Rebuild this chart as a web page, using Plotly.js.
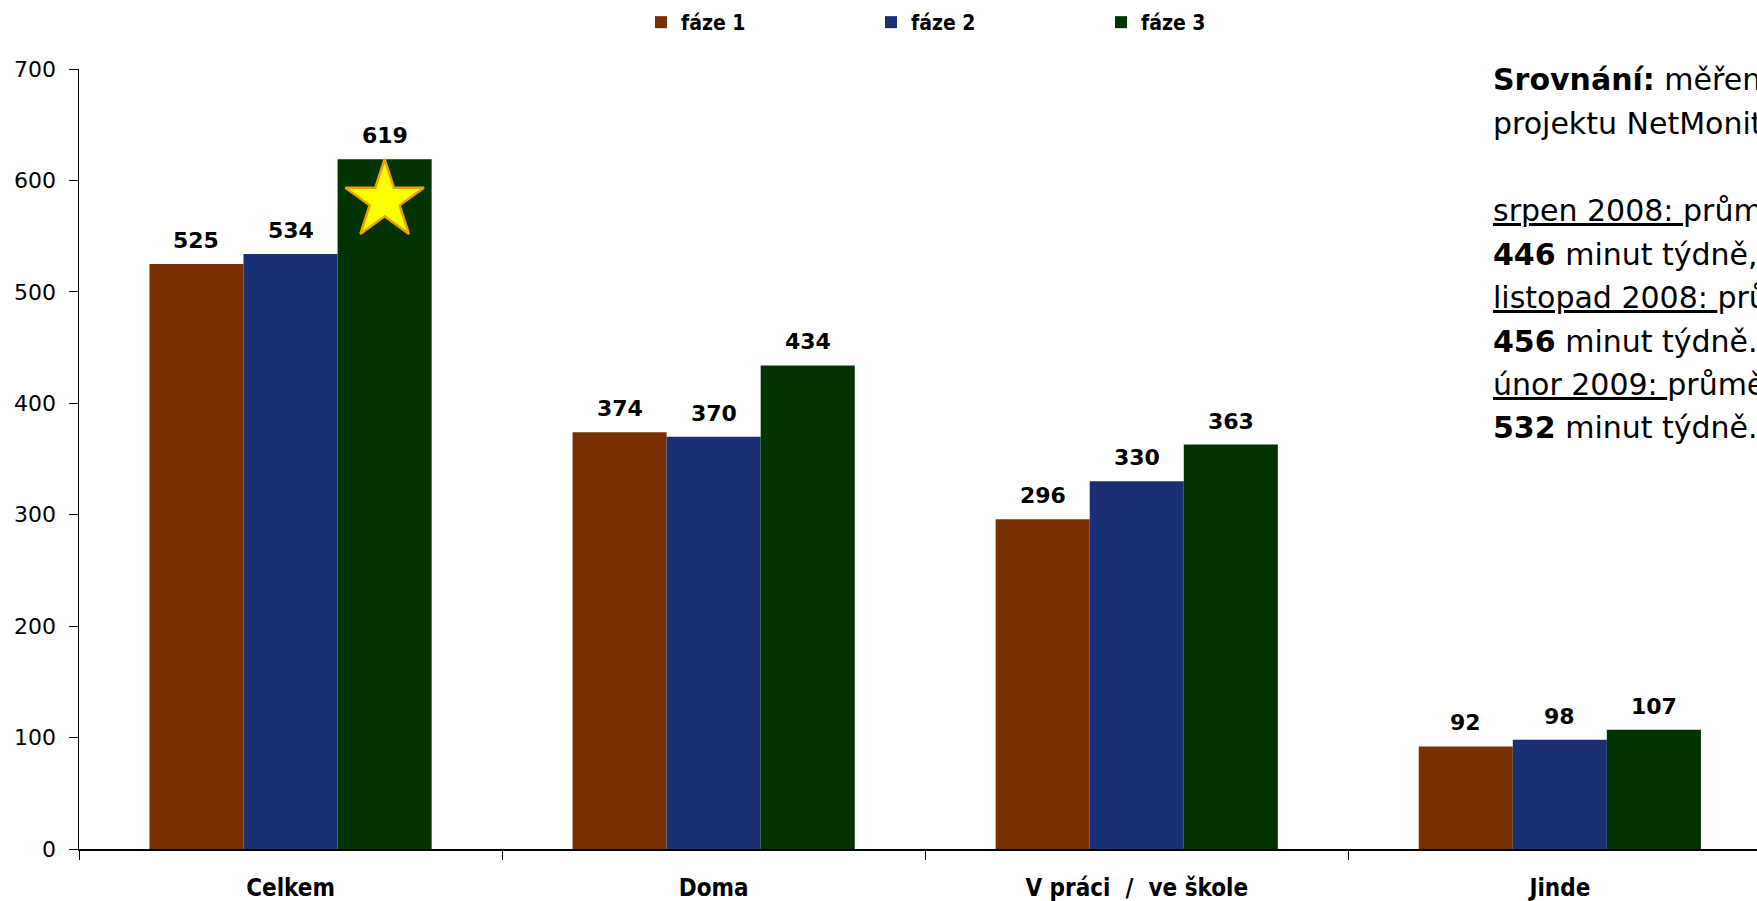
<!DOCTYPE html>
<html>
<head>
<meta charset="utf-8">
<script src="https://cdn.plot.ly/plotly-3.0.1.min.js"></script>
<style>html,body{margin:0;padding:0;background:#fff;}#chart{width:1757px;height:901px;}</style>
</head>
<body>
<div id="chart"></div>
<script>
const categories = ["Celkem", "Doma", "V práci  /  ve škole", "Jinde"];
const seriesNames = ["fáze 1", "fáze 2", "fáze 3"];
const faze1 = [525, 374, 296, 92];
const faze2 = [534, 370, 330, 98];
const faze3 = [619, 434, 363, 107];
const seriesValues = [faze1, faze2, faze3];
const colors = ["#783003", "#1B3074", "#003300"];
const yTicks = [0, 100, 200, 300, 400, 500, 600, 700];
const starCategoryIndex = [0];
const starValue = [582];
const noteLines = [
  "<b>Srovnání:</b> měření v rámci",
  "projektu NetMonitor",
  "",
  "<u>srpen 2008: </u>průměrně",
  "<b>446</b> minut týdně,",
  "<u>listopad 2008: </u>průměrně",
  "<b>456</b> minut týdně.",
  "<u>únor 2009: </u>průměrně",
  "<b>532</b> minut týdně."
];

const condBold = "'DejaVu Sans Condensed', 'Liberation Sans Narrow', 'DejaVu Sans', sans-serif";
const xRange = [-0.5, 3.466];
const groupWidth = 0.667;
const barW = groupWidth / 3;

const traces = seriesValues.map((vals, k) => ({
  type: "bar",
  name: seriesNames[k],
  x: categories,
  y: vals,
  marker: {color: colors[k], line: {width: 0}},
  hoverinfo: "x+y"
}));

traces.push({
  type: "scatter",
  mode: "markers",
  xaxis: "x2",
  yaxis: "y",
  x: starCategoryIndex.map(i => i + barW),
  y: starValue,
  marker: {symbol: "star", size: 59, color: "#FFFF00", line: {color: "#F0A000", width: 2.5}},
  showlegend: false,
  hoverinfo: "skip"
});

const W = 1757, H = 901, mL = 79, mR = 0, mT = 69, mB = 52;
const pw = W - mL - mR, ph = H - mT - mB;

const annotations = [];
seriesValues.forEach((vals, k) => {
  vals.forEach((v, i) => {
    annotations.push({
      x: i + (k - 1) * barW, xref: "x", y: v, yref: "y",
      text: "<b>" + v + "</b>", showarrow: false,
      yanchor: "bottom", yshift: 9,
      font: {family: "'DejaVu Sans', sans-serif", size: 22, color: "#000"}
    });
  });
});
const noteY0 = 80, noteStep = 43.5, noteX = 1491;
noteLines.forEach((t, j) => {
  if (!t) return;
  annotations.push({
    x: (noteX - mL) / pw, xref: "paper",
    y: 1 - ((noteY0 + j * noteStep) - mT) / ph, yref: "paper",
    text: t, showarrow: false, xanchor: "left", yanchor: "middle",
    font: {family: "'DejaVu Sans', sans-serif", size: 30, color: "#000"}
  });
});

const layout = {
  width: W, height: H,
  margin: {l: mL, r: mR, t: mT, b: mB, pad: 0},
  paper_bgcolor: "#fff", plot_bgcolor: "#fff",
  barmode: "group", bargap: 1 - groupWidth, bargroupgap: 0,
  showlegend: true,
  legend: {
    orientation: "h", x: (641 - mL) / pw, xanchor: "left", y: 1 + (mT - 2) / ph, yanchor: "top",
    font: {family: condBold, size: 21, color: "#000", weight: "bold"},
    entrywidth: 185, entrywidthmode: "pixels", itemwidth: 30,
    bgcolor: "rgba(0,0,0,0)"
  },
  xaxis: {
    type: "category", range: xRange, fixedrange: true,
    showline: true, linecolor: "#000", linewidth: 2,
    ticks: "outside", tickson: "boundaries", ticklen: 9, tickwidth: 1, tickcolor: "#000",
    ticklabelstandoff: 16,
    tickfont: {family: condBold, size: 24, color: "#000", weight: "bold"},
    showgrid: false, zeroline: false
  },
  xaxis2: {
    overlaying: "x", type: "linear", range: xRange, visible: false, fixedrange: true
  },
  yaxis: {
    range: [0, 700], tickvals: yTicks, ticktext: yTicks.map(String),
    showline: true, linecolor: "#000", linewidth: 1.5,
    ticks: "outside", ticklen: 9, tickwidth: 1, tickcolor: "#000",
    ticklabelstandoff: 8,
    tickfont: {family: "'DejaVu Sans', sans-serif", size: 22, color: "#000"},
    showgrid: false, zeroline: false, fixedrange: true
  },
  annotations: annotations
};

Plotly.newPlot("chart", traces, layout, {displayModeBar: false, staticPlot: true});
</script>
</body>
</html>
